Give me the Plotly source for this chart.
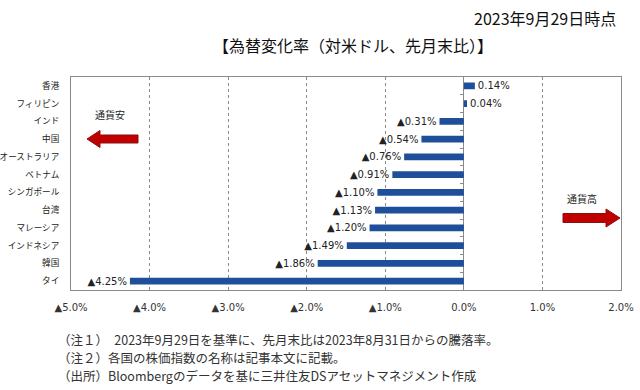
import plotly.graph_objects as go

categories = ["香港", "フィリピン", "インド", "中国", "オーストラリア", "ベトナム",
              "シンガポール", "台湾", "マレーシア", "インドネシア", "韓国", "タイ"]
values = [0.14, 0.04, -0.31, -0.54, -0.76, -0.91, -1.10, -1.13, -1.20, -1.49, -1.86, -4.25]
x_tickvals = [-5, -4, -3, -2, -1, 0, 1, 2]
x_ticktext = ["▲5.0%", "▲4.0%", "▲3.0%", "▲2.0%", "▲1.0%", "0.0%", "1.0%", "2.0%"]
notes = [
    "（注１）　2023年9月29日を基準に、先月末比は2023年8月31日からの騰落率。",
    "（注２）各国の株価指数の名称は記事本文に記載。",
    "（出所）Bloombergのデータを基に三井住友DSアセットマネジメント作成",
]

labels = [("▲%.2f%%" % abs(v)) if v < 0 else ("%.2f%%" % v) for v in values]

W, H = 640, 390
L, R, T, B = 71, 19, 77, 100
PW, PH = W - L - R, H - T - B

def px(x):
    return (x - L) / PW

def py(y):
    return (H - B - y) / PH

JP = "Noto Sans CJK JP"

fig = go.Figure()
fig.add_trace(go.Bar(
    y=categories, x=values, orientation="h",
    marker=dict(color="#1F4E9A", line=dict(width=0)),
    width=0.38,
    text=labels, textposition="outside", cliponaxis=False, constraintext="none",
    textfont=dict(family="DejaVu Sans", size=10, color="#222222"),
    hoverinfo="skip",
))

xmin, xmax = x_tickvals[0], x_tickvals[-1]

fig.update_layout(
    width=W, height=H,
    margin=dict(l=L, r=R, t=T, b=B, pad=0, autoexpand=False),
    paper_bgcolor="white", plot_bgcolor="white",
    showlegend=False,
    bargap=0.6,
    xaxis=dict(
        range=[xmin, xmax], tickmode="array", tickvals=x_tickvals, ticktext=x_ticktext,
        showgrid=True, gridcolor="#8a8a8a", griddash="dot", gridwidth=1,
        zeroline=True, zerolinecolor="#8a8a8a", zerolinewidth=1,
        showline=True, linecolor="#8a8a8a", linewidth=1, mirror=True,
        ticks="", ticklabelstandoff=8, automargin=False,
        tickfont=dict(family="DejaVu Sans", size=10, color="#333333"),
        fixedrange=True,
    ),
    yaxis=dict(
        type="category", categoryorder="array", categoryarray=categories,
        autorange="reversed",
        showline=True, linecolor="#8a8a8a", linewidth=1, mirror=True,
        showgrid=False, ticks="", ticklabelstandoff=9, automargin=False,
        tickfont=dict(family=JP, size=8.6, color="#222222"),
        fixedrange=True,
    ),
    yaxis2=dict(
        overlaying="y", anchor="free", position=(0 - xmin) / (xmax - xmin),
        side="left", range=[-0.5, len(categories) - 0.5], automargin=False,
        tickmode="array", tickvals=[i + 0.5 for i in range(len(categories) - 1)],
        ticks="outside", ticklen=4, tickcolor="#8a8a8a", showticklabels=False,
        showgrid=False, zeroline=False, showline=False, fixedrange=True,
    ),
)
fig.add_trace(go.Scatter(x=[None], y=[None], yaxis="y2", showlegend=False, hoverinfo="skip"))

annos = [
    dict(text="2023年9月29日時点", x=px(618), y=py(18), xanchor="right", yanchor="middle",
         font=dict(family=JP, size=16, color="#111111")),
    dict(text="【為替変化率（対米ドル、先月末比）】", x=px(353), y=py(45), xanchor="center", yanchor="middle",
         font=dict(family=JP, size=16, color="#111111")),
    dict(text="通貨安", x=px(110), y=py(114), xanchor="center", yanchor="middle",
         font=dict(family=JP, size=10, color="#222222")),
    dict(text="通貨高", x=px(582), y=py(198), xanchor="center", yanchor="middle",
         font=dict(family=JP, size=10, color="#222222")),
]
for i, line in enumerate(notes):
    annos.append(dict(text=line, x=px(57), y=py(339 + 18 * i), xanchor="left", yanchor="middle",
                      align="left", borderpad=0, font=dict(family=JP, size=12.5, color="#333333")))
for a in annos:
    a.update(xref="paper", yref="paper", showarrow=False)
    fig.add_annotation(**a)

def arrow_path(tip_x, tail_x, cy, shaft_h, head_h, head_len):
    d = 1 if tail_x > tip_x else -1
    hx = tip_x + d * head_len
    pts = [(tip_x, cy), (hx, cy - head_h / 2), (hx, cy - shaft_h / 2), (tail_x, cy - shaft_h / 2),
           (tail_x, cy + shaft_h / 2), (hx, cy + shaft_h / 2), (hx, cy + head_h / 2)]
    return "M " + " L ".join("%.5f,%.5f" % (px(x), py(y)) for x, y in pts) + " Z"

for p in [arrow_path(87, 138, 139, 8, 17, 13), arrow_path(620, 563, 218, 9, 18, 14)]:
    fig.add_shape(type="path", path=p, xref="paper", yref="paper",
                  fillcolor="#C00000", line=dict(color="#8B1010", width=1))

fig.write_html("out.html", config={"displayModeBar": False},
               post_script="document.body.style.margin='0px';")
